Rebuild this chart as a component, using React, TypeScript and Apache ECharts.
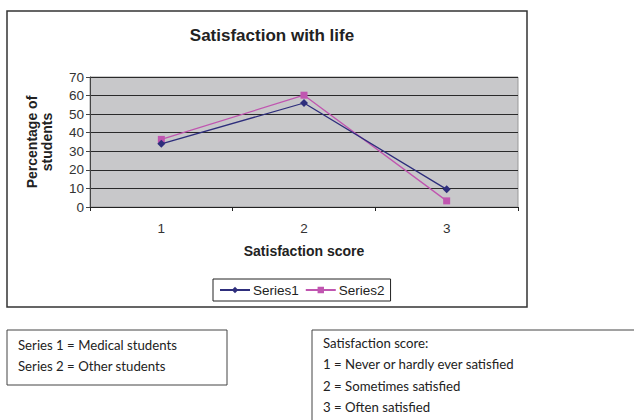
import React, { useEffect, useRef } from "react";
import * as echarts from "echarts";

const categories = ["1", "2", "3"];
const series1 = [34, 56, 9.5];
const series2 = [36.4, 60.2, 3.3];
const seriesNames = ["Series1", "Series2"];
const noteLeft = ["Series 1 = Medical students", "Series 2 = Other students"];
const noteRight = [
  "Satisfaction score:",
  "1 = Never or hardly ever satisfied",
  "2 = Sometimes satisfied",
  "3 = Often satisfied",
];

export default function App() {
  const ref = useRef<HTMLDivElement>(null);
  useEffect(() => {
    if (!ref.current) return;
    const chart = echarts.init(ref.current, undefined, { renderer: "svg" });
    const noteFont = "13.2px Lato, 'Open Sans', sans-serif";
    const graphics: any[] = [
      {
        type: "rect",
        shape: { x: 7, y: 11, width: 520, height: 296 },
        style: { fill: "none", stroke: "#333", lineWidth: 1.5 },
        silent: true,
      },
      {
        type: "rect",
        shape: { x: 7, y: 330, width: 220, height: 55 },
        style: { fill: "none", stroke: "#444", lineWidth: 1 },
        silent: true,
      },
      {
        type: "rect",
        shape: { x: 312, y: 330, width: 340, height: 110 },
        style: { fill: "none", stroke: "#444", lineWidth: 1 },
        silent: true,
      },
    ];
    noteLeft.forEach((t, i) => {
      graphics.push({
        type: "text",
        x: 18,
        y: 345 + i * 21,
        style: { text: t, font: noteFont, fill: "#222", verticalAlign: "middle" },
      });
    });
    noteRight.forEach((t, i) => {
      graphics.push({
        type: "text",
        x: 323,
        y: 343 + i * 21.3,
        style: { text: t, font: noteFont, fill: "#222", verticalAlign: "middle" },
      });
    });

    chart.setOption({
      animation: false,
      backgroundColor: "#fff",
      title: {
        text: "Satisfaction with life",
        left: 267,
        textAlign: "center",
        top: 22,
        textStyle: {
          fontFamily: "Arial, 'Liberation Sans', sans-serif",
          fontSize: 17,
          fontWeight: "bold",
          color: "#222",
        },
      },
      grid: {
        left: 90,
        right: 116,
        top: 77,
        bottom: 213,
        show: true,
        backgroundColor: "#c8c8ca",
        borderColor: "#999",
        borderWidth: 1,
      },
      legend: {
        data: seriesNames,
        left: 213,
        top: 279,
        itemWidth: 30,
        itemHeight: 8,
        itemGap: 6,
        padding: [4, 6, 4, 6],
        borderColor: "#222",
        borderWidth: 1,
        backgroundColor: "#fff",
        textStyle: {
          fontFamily: "Arial, 'Liberation Sans', sans-serif",
          fontSize: 13.5,
          color: "#222",
          padding: [0, 0, 0, -2],
        },
      },
      xAxis: {
        type: "category",
        data: categories,
        boundaryGap: true,
        name: "Satisfaction score",
        nameLocation: "middle",
        nameGap: 37,
        nameTextStyle: {
          fontFamily: "Arial, 'Liberation Sans', sans-serif",
          fontSize: 14,
          fontWeight: "bold",
          color: "#222",
        },
        axisLine: { lineStyle: { color: "#222", width: 1 } },
        axisTick: { show: true, length: 4, inside: false, lineStyle: { color: "#222" } },
        axisLabel: {
          margin: 14,
          fontFamily: "Arial, 'Liberation Sans', sans-serif",
          fontSize: 13.5,
          color: "#333",
        },
        splitLine: { show: false },
      },
      yAxis: {
        type: "value",
        min: 0,
        max: 70,
        interval: 10,
        name: "Percentage of\nstudents",
        nameLocation: "middle",
        nameRotate: 90,
        nameGap: 36,
        nameTextStyle: {
          fontFamily: "Arial, 'Liberation Sans', sans-serif",
          fontSize: 14,
          fontWeight: "bold",
          color: "#222",
          lineHeight: 15,
        },
        axisLine: { show: true, lineStyle: { color: "#444", width: 1 } },
        axisTick: { show: true, length: 4, lineStyle: { color: "#444" } },
        axisLabel: {
          margin: 6,
          fontFamily: "Arial, 'Liberation Sans', sans-serif",
          fontSize: 13.5,
          color: "#333",
        },
        splitLine: { show: true, lineStyle: { color: "#2a2a2a", width: 1 } },
      },
      series: [
        {
          name: seriesNames[0],
          type: "line",
          data: series1,
          symbol: "diamond",
          symbolSize: 8,
          itemStyle: { color: "#2e2e7c" },
          lineStyle: { color: "#2e2e7c", width: 1.3 },
          z: 3,
        },
        {
          name: seriesNames[1],
          type: "line",
          data: series2,
          symbol: "rect",
          symbolSize: 7,
          itemStyle: { color: "#c055b0" },
          lineStyle: { color: "#c055b0", width: 1.3 },
          z: 2,
        },
      ],
      graphic: graphics,
    });
    return () => chart.dispose();
  }, []);
  return (
    <div
      ref={ref}
      style={{ position: "absolute", left: 0, top: 0, width: 634, height: 420 }}
    />
  );
}
